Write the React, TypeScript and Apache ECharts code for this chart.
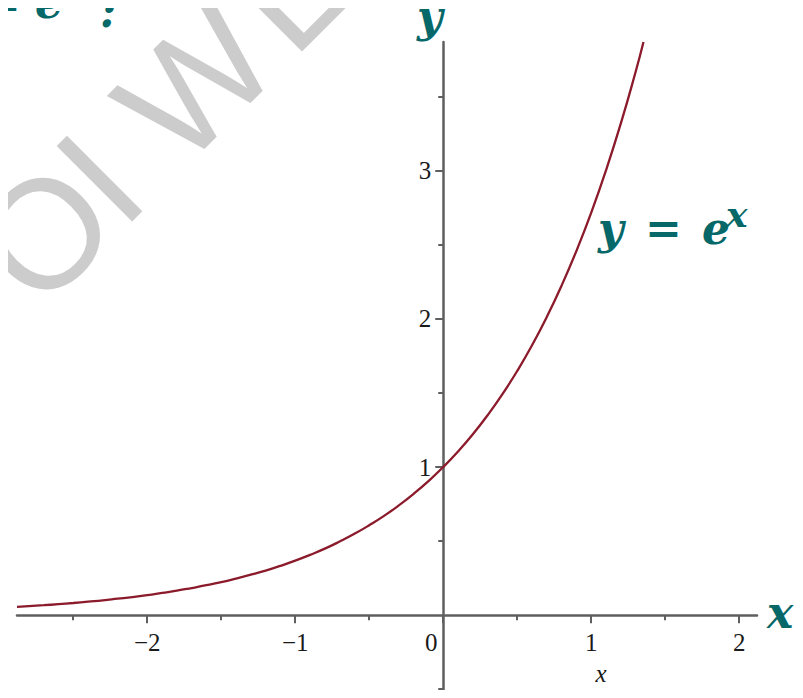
import React, { useEffect, useRef } from "react";
import * as echarts from "echarts";

// Sampled points of the exponential curve y = e^x
const xValues = [
  -2.88, -2.8, -2.7, -2.6, -2.5, -2.4, -2.3, -2.2, -2.1, -2.0,
  -1.9, -1.8, -1.7, -1.6, -1.5, -1.4, -1.3, -1.2, -1.1, -1.0,
  -0.9, -0.8, -0.7, -0.6, -0.5, -0.4, -0.3, -0.2, -0.1, 0.0,
  0.1, 0.2, 0.3, 0.4, 0.5, 0.6, 0.7, 0.8, 0.9, 1.0,
  1.1, 1.2, 1.3, 1.353,
];
const yValues = [
  0.056, 0.061, 0.067, 0.074, 0.082, 0.091, 0.100, 0.111, 0.122, 0.135,
  0.150, 0.165, 0.183, 0.202, 0.223, 0.247, 0.273, 0.301, 0.333, 0.368,
  0.407, 0.449, 0.497, 0.549, 0.607, 0.670, 0.741, 0.819, 0.905, 1.0,
  1.105, 1.221, 1.350, 1.492, 1.649, 1.822, 2.014, 2.226, 2.460, 2.718,
  3.004, 3.320, 3.669, 3.870,
];

// Axis extents and tick marks
const xRange = [-2.88, 2.12];
const yRange = [-0.6, 3.87];
const xMajorTicks = [-2, -1, 0, 1, 2];
const xMinorTicks = [-2.5, -1.5, -0.5, 0.5, 1.5];
const yMajorTicks = [1, 2, 3];
const yMinorTicks = [-0.5, 0.5, 1.5, 2.5, 3.5];

// Watermark letters and their centres along the slanted baseline
const watermarkLetters = ["O", "I", "W", "E"];
const watermarkOffsets = [-78, 0, 136, 272];

const GRID = { left: 17, top: 42, width: 740, height: 662 };

const AXIS_COLOR = "#5f5f5f";
const CURVE_COLOR = "#8b1a2b";
const TEAL = "#066868";
const LABEL_FONT = "'Liberation Serif', 'Times New Roman', serif";
const MATH_FONT = "'DejaVu Serif', serif";

// Offsets that put each axis through the origin (axes cross at x = 0, y = 0)
const xAxisOffset = -((0 - yRange[0]) / (yRange[1] - yRange[0])) * GRID.height;
const yAxisOffset = -((0 - xRange[0]) / (xRange[1] - xRange[0])) * GRID.width;

const mathText = (text: string, x: number, y: number, size = 44) => ({
  type: "text",
  x,
  y,
  z: 10,
  style: {
    text,
    fill: TEAL,
    font: `italic bold ${size}px ${MATH_FONT}`,
    align: "left",
    verticalAlign: "middle",
  },
});

export default function App() {
  const ref = useRef<HTMLDivElement>(null);

  useEffect(() => {
    if (!ref.current) return;
    const chart = echarts.init(ref.current, undefined, { renderer: "svg" });

    const lineStyle = { color: AXIS_COLOR, width: 2.5 };
    const tickStyle = { color: AXIS_COLOR, width: 2 };

    chart.setOption({
      animation: false,
      backgroundColor: "#ffffff",
      grid: { ...GRID, containLabel: false, outerBoundsMode: "none" },
      xAxis: [
        {
          type: "value",
          position: "bottom",
          offset: xAxisOffset,
          min: xRange[0],
          max: xRange[1],
          axisLine: { onZero: false, lineStyle },
          axisTick: { customValues: xMajorTicks, length: 8, lineStyle: tickStyle },
          axisLabel: {
            customValues: xMajorTicks,
            margin: 15,
            color: "#1a1a1a",
            fontFamily: LABEL_FONT,
            fontSize: 25,
            formatter: (v: number) =>
              v === 0 ? "{z|0}" : v < 0 ? "\u2212" + Math.abs(v) : String(v),
            rich: {
              z: {
                color: "#1a1a1a",
                fontFamily: LABEL_FONT,
                fontSize: 25,
                padding: [0, 24, 0, 0],
              },
            },
          },
          splitLine: { show: false },
        },
        {
          type: "value",
          position: "bottom",
          offset: xAxisOffset,
          min: xRange[0],
          max: xRange[1],
          axisLine: { onZero: false, show: false },
          axisTick: { customValues: xMinorTicks, length: 5, lineStyle: tickStyle },
          axisLabel: { show: false },
          splitLine: { show: false },
        },
      ],
      yAxis: [
        {
          type: "value",
          position: "left",
          offset: yAxisOffset,
          min: yRange[0],
          max: yRange[1],
          axisLine: { onZero: false, lineStyle },
          axisTick: { customValues: yMajorTicks, length: 8, lineStyle: tickStyle },
          axisLabel: {
            customValues: yMajorTicks,
            margin: 12,
            color: "#1a1a1a",
            fontFamily: LABEL_FONT,
            fontSize: 25,
          },
          splitLine: { show: false },
        },
        {
          type: "value",
          position: "left",
          offset: yAxisOffset,
          min: yRange[0],
          max: yRange[1],
          axisLine: { onZero: false, show: false },
          axisTick: { customValues: yMinorTicks, length: 5, lineStyle: tickStyle },
          axisLabel: { show: false },
          splitLine: { show: false },
        },
      ],
      series: [
        {
          type: "line",
          xAxisIndex: 0,
          yAxisIndex: 0,
          data: xValues.map((x, i) => [x, yValues[i]]),
          showSymbol: false,
          smooth: true,
          lineStyle: { color: CURVE_COLOR, width: 2.3 },
          z: 5,
        },
      ],
      graphic: [
        // watermark, slanted at 45 degrees
        {
          type: "group",
          x: 98,
          y: 177,
          rotation: Math.PI / 4,
          z: -10,
          children: watermarkLetters.map((ch, i) => ({
            type: "text",
            x: watermarkOffsets[i],
            y: 2,
            style: {
              text: ch,
              fill: "#cccccc",
              font: "155px 'Liberation Sans', Arial, sans-serif",
              align: "center",
              verticalAlign: "middle",
            },
          })),
        },
        // heading fragment at the top-left
        mathText("=", -16, 2),
        mathText("e", 35, 2),
        mathText("x", 59, -11, 36),
        mathText(":", 100, 11),
        // axis names
        mathText("y", 417, 16),
        mathText("x", 767, 612),
        // curve label
        mathText("y", 598, 228),
        mathText("=", 645, 228),
        mathText("e", 702, 228),
        mathText("x", 726, 214, 36),
        // small variable name under the x axis
        {
          type: "text",
          x: 601,
          y: 673,
          style: {
            text: "x",
            fill: "#1a1a1a",
            font: `italic 25px ${LABEL_FONT}`,
            align: "center",
            verticalAlign: "middle",
          },
        },
      ],
    });

    return () => chart.dispose();
  }, []);

  return <div ref={ref} style={{ width: 803, height: 698, margin: -8 }} />;
}
